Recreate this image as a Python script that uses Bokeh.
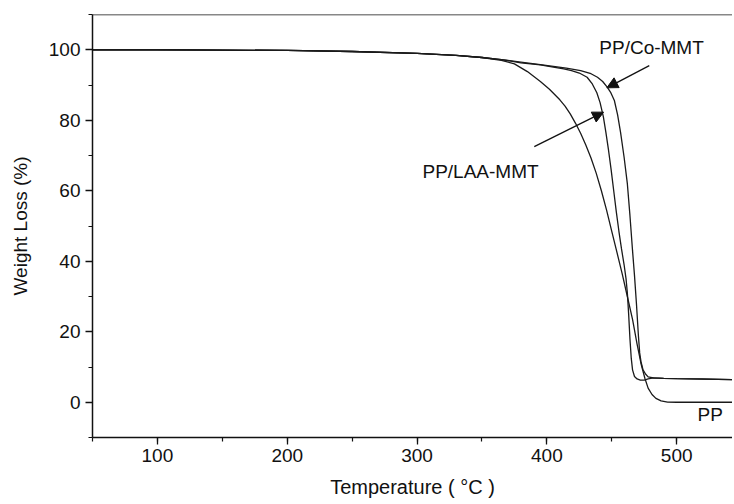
from bokeh.plotting import figure
from bokeh.models import Range1d, SingleIntervalTicker, Span, Arrow, NormalHead, Label
from bokeh.embed import file_html
from bokeh.resources import INLINE

# ---- data ----
pp_t = [50, 100, 150, 200, 250, 300, 330, 350, 365, 375, 385, 395, 402, 410, 414, 418, 422,
        426, 430, 434, 438, 442, 446, 450, 454, 458, 462, 466, 469.5, 472.5, 475.5, 478, 481,
        484, 488, 493, 500, 543]
pp_w = [100, 100, 99.9, 99.8, 99.5, 99.0, 98.4, 97.8, 97.0, 96.0, 93.8, 91.0, 88.8, 85.8, 84.0,
        81.8, 79.2, 76.3, 73.0, 69.3, 65.0, 60.0, 54.5, 48.5, 42.5, 36.5, 30.0, 23.5, 16.5,
        11.0, 6.8, 4.0, 2.2, 1.1, 0.4, 0.05, 0, 0]

laa_t = [50, 100, 150, 200, 250, 300, 330, 350, 365, 380, 395, 405, 413, 419, 425, 431, 435,
         438.5, 441, 443.5, 445.5, 447.5, 449.5, 451.5, 453.5, 455.5, 457.5, 459.5, 461, 462,
         463, 464, 465, 466, 467.5, 469.5, 472, 475, 478, 482, 490, 500, 543]
laa_w = [100, 100, 99.9, 99.8, 99.5, 99.0, 98.4, 97.8, 97.2, 96.3, 95.7, 95.1, 94.6, 94.1, 93.4,
         92.2, 90.3, 87.8, 85.0, 81.0, 76.5, 71.5, 66.0, 60.0, 54.0, 48.5, 43.5, 39.0, 35.0,
         31.0, 25.0, 18.0, 12.5, 9.2, 7.3, 6.6, 6.3, 6.3, 6.6, 6.9, 6.8, 6.7, 6.4]

co_t = [50, 100, 150, 200, 250, 300, 330, 350, 365, 380, 395, 405, 415, 426, 434, 439, 443,
        446.5, 449, 452, 454.5, 456.8, 459.5, 462, 464, 466, 467.5, 469, 470.5, 471.5, 472.5,
        474, 476, 478, 482, 490, 500, 520, 543]
co_w = [100, 100, 99.9, 99.8, 99.5, 99.0, 98.4, 97.8, 97.2, 96.5, 95.8, 95.3, 94.8, 94.1, 93.2,
        92.2, 91.0, 89.4, 88.0, 85.6, 81.5, 76.5, 69.5, 62.0, 53.0, 43.0, 36.0, 28.0, 19.0,
        14.0, 11.5, 9.3, 8.0, 7.2, 6.9, 6.8, 6.7, 6.6, 6.4]

x_start, x_end = 50, 543
y_start, y_end = -10, 110

labels = ["PP/Co-MMT", "PP/LAA-MMT", "PP"]
label_x = [440.4, 304.2, 516.1]
label_y = [100.5, 65.5, -3.6]

arrow_x_start = [478.9, 390.3]
arrow_y_start = [95.5, 72.5]
arrow_x_end = [446.2, 443.7]
arrow_y_end = [89.2, 82.3]

FONT = "Liberation Sans"

p = figure(width=732, height=503, output_backend="svg", toolbar_location=None,
           x_range=Range1d(x_start, x_end), y_range=Range1d(y_start, y_end),
           min_border_left=92, min_border_right=0, min_border_top=14, min_border_bottom=66)
p.outline_line_color = None
p.xgrid.visible = False
p.ygrid.visible = False
p.background_fill_color = "white"

for t, w in [(pp_t, pp_w), (laa_t, laa_w), (co_t, co_w)]:
    p.line(t, w, line_color="#1a1a1a", line_width=1.3)

p.xaxis.ticker = SingleIntervalTicker(interval=100, num_minor_ticks=2)
p.yaxis.ticker = SingleIntervalTicker(interval=20, num_minor_ticks=2)

for ax in (p.xaxis[0], p.yaxis[0]):
    ax.axis_line_color = "#111111"
    ax.axis_line_width = 1.5
    ax.major_tick_line_color = "#111111"
    ax.minor_tick_line_color = "#111111"
    ax.major_tick_line_width = 1.3
    ax.minor_tick_line_width = 1.2
    ax.major_tick_in = 0
    ax.major_tick_out = 7
    ax.minor_tick_in = 0
    ax.minor_tick_out = 4
    ax.major_label_text_font = FONT
    ax.major_label_text_font_size = "19px"
    ax.major_label_text_color = "#111111"
    ax.axis_label_text_font = FONT
    ax.axis_label_text_font_style = "normal"
    ax.axis_label_text_color = "#111111"

p.xaxis.axis_label = "Temperature ( °C )"
p.yaxis.axis_label = "Weight Loss (%)"
p.xaxis.axis_label_text_font_size = "20px"
p.yaxis.axis_label_text_font_size = "19px"
p.xaxis.major_label_standoff = 4
p.xaxis.axis_label_standoff = 11
p.yaxis.major_label_standoff = 5
p.yaxis.axis_label_standoff = 15

p.add_layout(Span(location=y_end, dimension="width", line_color="#111111", line_width=1.5))

for x0, y0, x1, y1 in zip(arrow_x_start, arrow_y_start, arrow_x_end, arrow_y_end):
    p.add_layout(Arrow(x_start=x0, y_start=y0, x_end=x1, y_end=y1,
                       line_color="#111111", line_width=1.3,
                       end=NormalHead(size=11, fill_color="#111111", line_color="#111111")))

for txt, lx, ly in zip(labels, label_x, label_y):
    p.add_layout(Label(x=lx, y=ly, text=txt, text_align="left", text_baseline="middle",
                       text_font=FONT, text_font_size="19px", text_color="#111111"))

open("out.html", "w").write(file_html(p, INLINE))
